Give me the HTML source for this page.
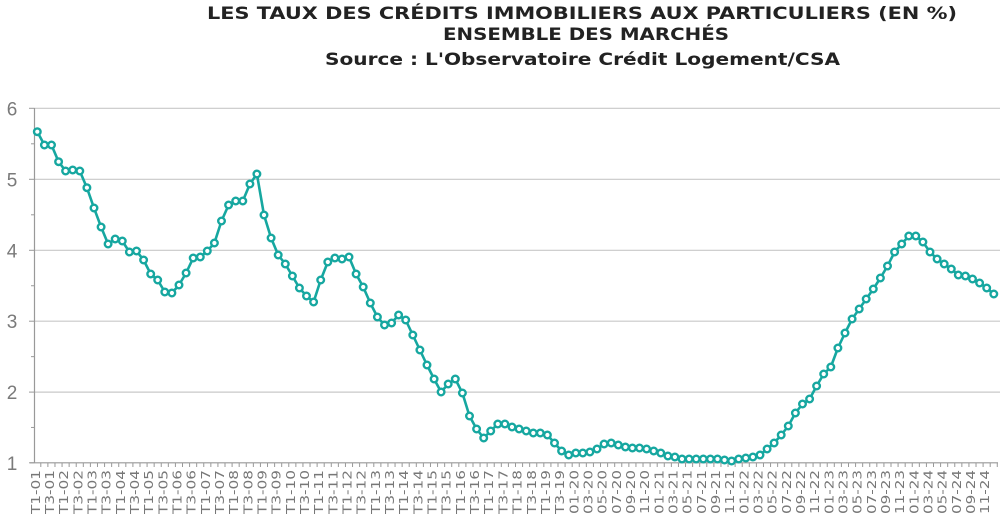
<!DOCTYPE html>
<html><head><meta charset="utf-8">
<style>
html,body{margin:0;padding:0;background:#fff;}
body{width:1007px;height:523px;overflow:hidden;}
svg text{font-family:"Liberation Sans",sans-serif;}
svg text.t{font-family:"DejaVu Sans","Liberation Sans",sans-serif;}
</style></head>
<body>
<svg id="c" width="1007" height="523" xmlns="http://www.w3.org/2000/svg">
<text class="t" x="207" y="19" textLength="750" lengthAdjust="spacingAndGlyphs" font-size="17" font-weight="bold" fill="#222">LES TAUX DES CRÉDITS IMMOBILIERS AUX PARTICULIERS (EN %)</text>
<text class="t" x="443" y="40" textLength="286" lengthAdjust="spacingAndGlyphs" font-size="17" font-weight="bold" fill="#222">ENSEMBLE DES MARCHÉS</text>
<text class="t" x="325" y="65" textLength="515" lengthAdjust="spacingAndGlyphs" font-size="17" font-weight="bold" fill="#222">Source : L'Observatoire Crédit Logement/CSA</text>
</svg>
<script>
var s=document.getElementById('c'),h='';
var gy=[108.3,179.3,250.3,321.2,392.1,462.8];
for(var i=0;i<6;i++){
 if(i<5)h+='<line x1="34.5" x2="1000" y1="'+gy[i]+'" y2="'+gy[i]+'" stroke="#c8c8c8" stroke-width="1.2"/>';
 h+='<line x1="29" x2="34.5" y1="'+gy[i]+'" y2="'+gy[i]+'" stroke="#999" stroke-width="1"/>';
 h+='<text x="12" y="'+(gy[i]+7)+'" font-size="19" fill="#7a7a7a" text-anchor="middle">'+(6-i)+'</text>';
 if(i<5){var m=(gy[i]+gy[i+1])/2;h+='<line x1="31" x2="34.5" y1="'+m+'" y2="'+m+'" stroke="#999"/>';}
}
h+='<line x1="34.5" x2="34.5" y1="108" y2="463" stroke="#999" stroke-width="1.2"/>';
h+='<line x1="30" x2="998" y1="462.8" y2="462.8" stroke="#999" stroke-width="1.2"/>';
var y=[131.7,145,145,161.7,171,170,171,187.7,208,227,244,239,241,252,251,260,274,280,292,293,285,273,258,257,251,243,221,205,201,201,184,174,
215,238,255,264,276,288,296,302,280,262,258,259,257,274,287,303,317,325,323,315,320,335,350,365,379,392,384,379,393,416,429,
438,431,424,424,427,429,431,433,433,435,443,451,455,453,453,452,449,444,443,445,447,448,448,449,451,453,456,457,459,459,459,459,459,459,460,461,459,458,457,455,449,443,435,
426,413,404,399,386,374,367,348,333,319,309,299,289,278,266,252,244,236,236,242,252,259,264,269,275,276,279,283,288,294];
var X=function(i){return 37.3+i*7.085;};
for(var i=0;i<y.length;i++){var x=X(i)+3.5;h+='<line x1="'+x+'" x2="'+x+'" y1="462.8" y2="467" stroke="#999"/>';}
var labs=[];
for(var yr=1;yr<=19;yr++){var a=(yr<10?'0':'')+yr;labs.push('T1-'+a);labs.push('T3-'+a);}
for(var yr=20;yr<=24;yr++)for(var m=1;m<=11;m+=2)labs.push((m<10?'0':'')+m+'-'+yr);
for(var k=0;k<labs.length;k++){var x=X(2*k)+2.5;var L=labs[k].length==5?44:36;h+='<text class="t" transform="translate('+x+',470) rotate(-90)" text-anchor="end" textLength="'+L+'" lengthAdjust="spacingAndGlyphs" font-size="12.5" fill="#777">'+labs[k]+'</text>';}
var p='';for(var i=0;i<y.length;i++)p+=(i?'L':'M')+X(i).toFixed(1)+' '+y[i];
h+='<path d="'+p+'" fill="none" stroke="#16a7a0" stroke-width="2.6" stroke-linejoin="round"/>';
for(var i=0;i<y.length;i++)h+='<circle cx="'+X(i).toFixed(1)+'" cy="'+y[i]+'" r="3.3" fill="#fff" stroke="#16a7a0" stroke-width="2.4"/>';
s.insertAdjacentHTML('beforeend',h);
</script>
</body></html>
